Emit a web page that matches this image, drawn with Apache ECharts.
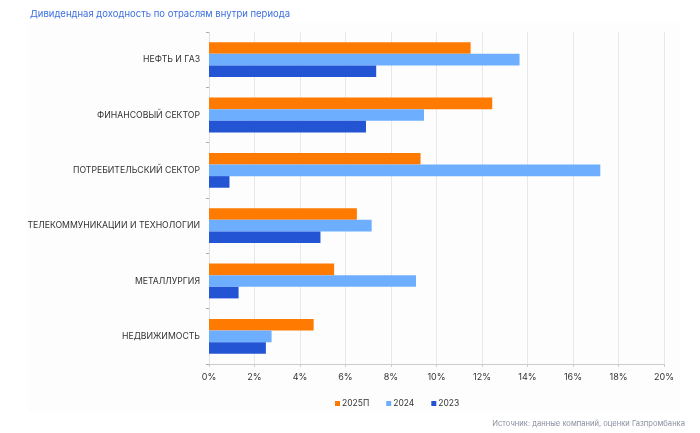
<!DOCTYPE html>
<html><head><meta charset="utf-8">
<script src="https://cdn.jsdelivr.net/npm/echarts@6/dist/echarts.min.js"></script>
<style>html,body{margin:0;padding:0;background:#fff}#c{width:700px;height:433px}</style>
</head><body><div id="c"></div>
<script>
var categories = ['НЕФТЬ И ГАЗ','ФИНАНСОВЫЙ СЕКТОР','ПОТРЕБИТЕЛЬСКИЙ СЕКТОР','ТЕЛЕКОММУНИКАЦИИ И ТЕХНОЛОГИИ','МЕТАЛЛУРГИЯ','НЕДВИЖИМОСТЬ'];
var s2025 = [11.5, 12.45, 9.3, 6.5, 5.5, 4.6];
var s2024 = [13.65, 9.45, 17.2, 7.15, 9.1, 2.75];
var s2023 = [7.35, 6.9, 0.9, 4.9, 1.3, 2.5];
var seriesNames = ['2025П','2024','2023'];
var xTicks = [0,2,4,6,8,10,12,14,16,18,20];
var colors = ['#FF7A00','#6EAEFF','#2254D4'];
var font = 'Inter, "Noto Sans", sans-serif';
var chart = echarts.init(document.getElementById('c'));
function mk(name, data, i){
  return {name:name,type:'bar',data:data,barWidth:11.6,barGap:'0%',
    itemStyle:{color:colors[i]}};
}
chart.setOption({
  animation:false,
  graphic:[{type:'rect',left:28,top:23,shape:{width:652,height:388},style:{fill:'#fdfdfd'},z:-10}],
  title:[{text:'Дивидендная доходность по отраслям внутри периода',left:25,top:4,
    textStyle:{color:'#3C6FE0',fontSize:9.5,fontWeight:'normal',fontFamily:font}},
    {text:'Источник: данные компаний, оценки Газпромбанка',right:10,top:415,
    textStyle:{color:'#8A8FA0',fontSize:7.6,fontWeight:'normal',fontFamily:font}}],
  legend:{data:seriesNames,top:394,left:330,itemWidth:5,itemHeight:5,itemGap:17,
    icon:'rect',textStyle:{fontSize:8.5,color:'#333',fontFamily:font,padding:[0,0,0,-3]}},
  grid:{left:209,right:36,top:32,bottom:69},
  xAxis:{type:'value',min:0,max:20,interval:2,
    axisLabel:{formatter:function(v){return v+'%';},fontSize:9,color:'#333',margin:9,fontFamily:font},
    axisLine:{show:true,lineStyle:{color:'#cccccc'}},
    axisTick:{show:true,length:3,lineStyle:{color:'#cccccc'}},
    splitLine:{lineStyle:{color:'#e8e8e8'}}},
  yAxis:{type:'category',data:categories,inverse:true,
    axisLabel:{fontSize:8.7,color:'#333',margin:9,fontFamily:font},
    axisLine:{show:true,lineStyle:{color:'#e0e0e0'}},
    axisTick:{show:true,length:3,lineStyle:{color:'#aaaaaa'}}},
  series:[mk(seriesNames[0],s2025,0),mk(seriesNames[1],s2024,1),mk(seriesNames[2],s2023,2)]
});
</script></body></html>
